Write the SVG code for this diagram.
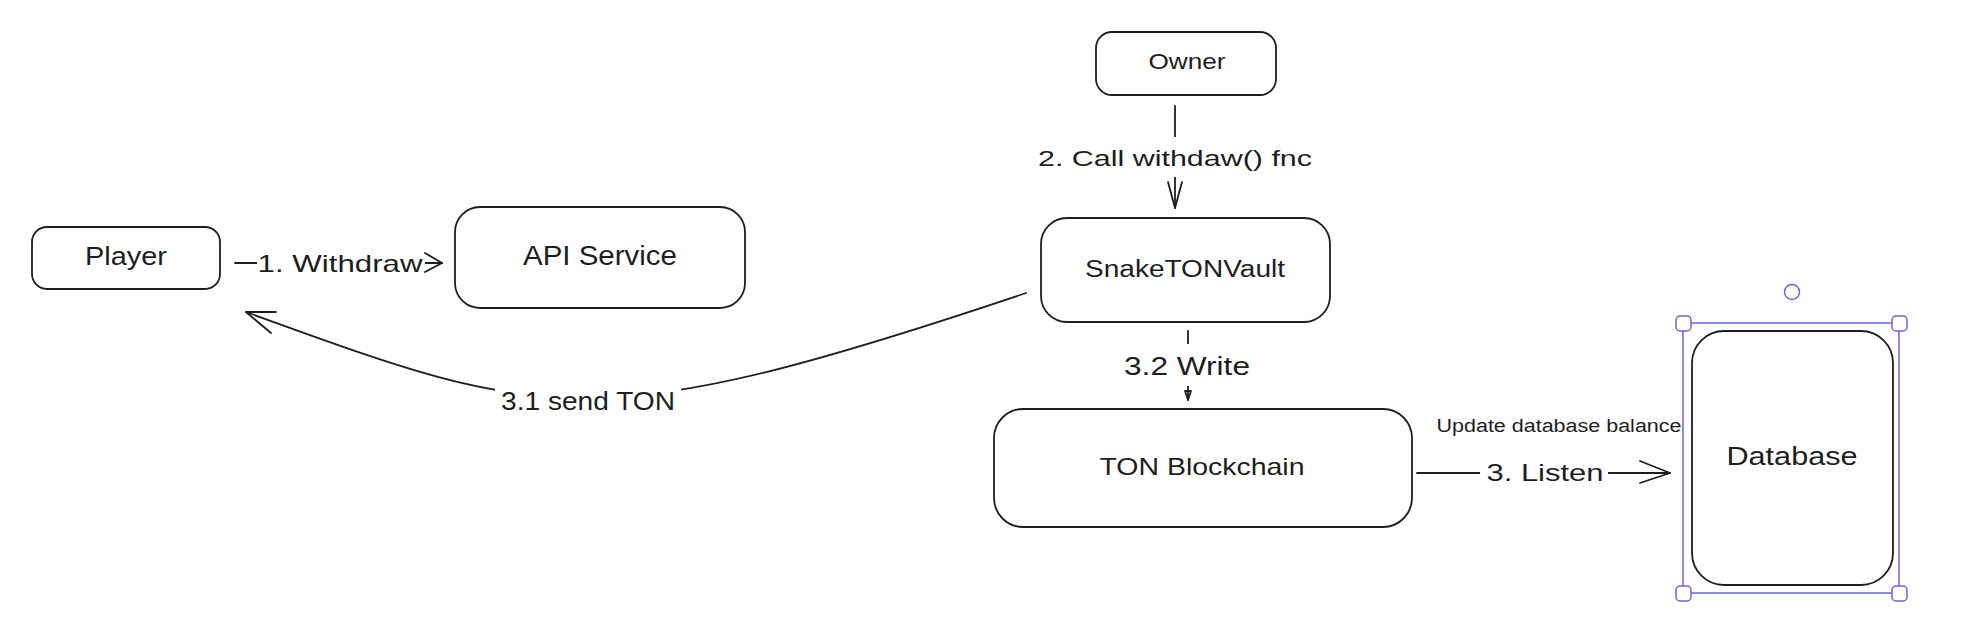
<svg xmlns="http://www.w3.org/2000/svg" width="1970" height="618" viewBox="0 0 1970 618">
<style>
.box{fill:#ffffff;stroke:#1e1e1e;stroke-width:1.8}
.ln{fill:none;stroke:#1e1e1e;stroke-width:1.8;stroke-linecap:round;stroke-linejoin:round}
.t{font-family:"Liberation Sans",Arial,sans-serif;fill:#1e1e1e;text-anchor:middle}
.lbg{fill:#ffffff}
.sel{fill:none;stroke:#6965db;stroke-width:1.5}
.hdl{fill:#ffffff;stroke:#6965db;stroke-width:1.5}
</style>
<rect width="1970" height="618" fill="#ffffff"/>
<g id="connectors">
  <g id="c-withdraw">
    <line class="ln" x1="235" y1="263" x2="442" y2="263"/>
    <rect class="lbg" x="257" y="248" width="168" height="30"/>
    <path class="ln" d="M425,253 L442,263 L425,272"/>
    <text class="t" x="340" y="272" font-size="24" textLength="165" lengthAdjust="spacingAndGlyphs">1. Withdraw</text>
  </g>
  <g id="c-call">
    <line class="ln" x1="1175" y1="106" x2="1175" y2="208"/>
    <rect class="lbg" x="1034" y="137" width="282" height="40"/>
    <path class="ln" d="M1168,182 L1175,208 L1182,182"/>
    <text class="t" x="1175" y="166" font-size="22" textLength="274" lengthAdjust="spacingAndGlyphs">2. Call withdaw() fnc</text>
  </g>
  <g id="c-send">
    <path class="ln" d="M1026,293 C589,440 544,420 246,312"/>
    <rect class="lbg" x="495" y="382" width="186" height="34"/>
    <path class="ln" d="M276,312 L246,312 L271,333"/>
    <text class="t" x="588" y="410" font-size="26" textLength="174" lengthAdjust="spacingAndGlyphs">3.1 send TON</text>
  </g>
  <g id="c-write">
    <line class="ln" x1="1188" y1="331" x2="1188" y2="400"/>
    <rect class="lbg" x="1118" y="344" width="138" height="42"/>
    <path class="ln" d="M1185,391 L1188,400 L1191,391 Z" fill="#1e1e1e"/>
    <text class="t" x="1187" y="375" font-size="25" textLength="126" lengthAdjust="spacingAndGlyphs">3.2 Write</text>
  </g>
  <g id="c-listen">
    <line class="ln" x1="1417" y1="473" x2="1670" y2="473"/>
    <rect class="lbg" x="1480" y="456" width="128" height="34"/>
    <path class="ln" d="M1640,461 L1670,473 L1640,483"/>
    <text class="t" x="1545" y="481" font-size="24" textLength="117" lengthAdjust="spacingAndGlyphs">3. Listen</text>
    <text class="t" x="1559" y="432" font-size="18" textLength="245" lengthAdjust="spacingAndGlyphs">Update database balance</text>
  </g>
</g>
<g id="player">
  <rect class="box" x="32" y="227" width="188" height="62" rx="15"/>
  <text class="t" x="126" y="265" font-size="26" textLength="82" lengthAdjust="spacingAndGlyphs">Player</text>
</g>
<g id="api-service">
  <rect class="box" x="455" y="207" width="290" height="101" rx="25"/>
  <text class="t" x="600" y="265" font-size="27" textLength="154" lengthAdjust="spacingAndGlyphs">API Service</text>
</g>
<g id="owner">
  <rect class="box" x="1096" y="32" width="180" height="63" rx="16"/>
  <text class="t" x="1187" y="69" font-size="22" textLength="77" lengthAdjust="spacingAndGlyphs">Owner</text>
</g>
<g id="vault">
  <rect class="box" x="1041" y="218" width="289" height="104" rx="26"/>
  <text class="t" x="1185" y="277" font-size="23" textLength="200" lengthAdjust="spacingAndGlyphs">SnakeTONVault</text>
</g>
<g id="ton-blockchain">
  <rect class="box" x="994" y="409" width="418" height="118" rx="29"/>
  <text class="t" x="1202" y="475" font-size="24" textLength="205" lengthAdjust="spacingAndGlyphs">TON Blockchain</text>
</g>
<g id="database">
  <rect class="box" x="1692" y="331" width="201" height="254" rx="32"/>
  <text class="t" x="1792" y="465" font-size="26" textLength="131" lengthAdjust="spacingAndGlyphs">Database</text>
</g>
<g id="selection">
  <rect class="sel" x="1683" y="323" width="216" height="270"/>
  <circle class="hdl" cx="1792" cy="292" r="7.5"/>
  <rect class="hdl" x="1676" y="316" width="15" height="15" rx="4"/>
  <rect class="hdl" x="1892" y="316" width="15" height="15" rx="4"/>
  <rect class="hdl" x="1676" y="586" width="15" height="15" rx="4"/>
  <rect class="hdl" x="1892" y="586" width="15" height="15" rx="4"/>
</g>
</svg>
